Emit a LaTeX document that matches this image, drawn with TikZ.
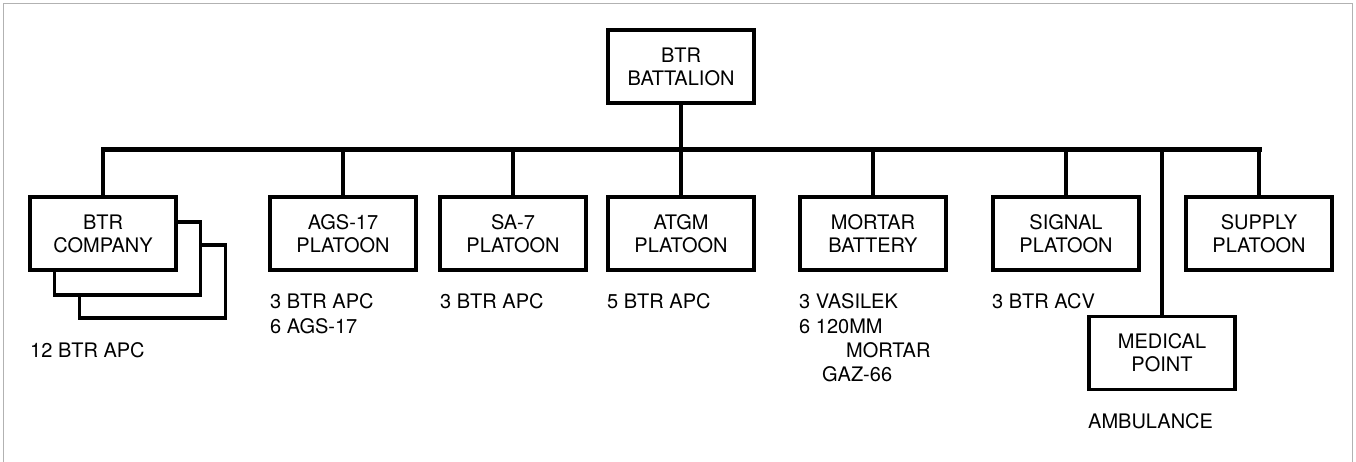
\documentclass[tikz,border=0pt]{standalone}
\usepackage{fontspec}
\setmainfont{TeX Gyre Heros}
\begin{document}
\begin{tikzpicture}[x=1pt, y=-1pt,
    unit/.style={draw, line width=3.2pt, fill=white, minimum width=146pt, minimum height=73pt,
        inner sep=0pt, align=center, font=\fontsize{20}{23}\selectfont},
    link/.style={line width=4.5pt},
    note/.style={anchor=base west, inner sep=0pt, font=\fontsize{20}{24}\selectfont}]
    \useasboundingbox (0,0) rectangle (1356,462);
    \draw[gray!60, line width=0.8pt] (3,462) -- (3,3) -- (1352,3) -- (1352,462);

    % headquarters
    \node[unit] (bat) at (681,66.5) {BTR\\BATTALION};

    % subunits
    \node[unit] (coyc) at (152.5,281.5) {};
    \node[unit] (coyb) at (127.5,258.5) {};
    \node[unit] (coy) at (103,233.5) {BTR\\COMPANY};
    \node[unit] (ags) at (343,233.5) {AGS-17\\PLATOON};
    \node[unit] (sam) at (513,233.5) {SA-7\\PLATOON};
    \node[unit] (atgm) at (681,233.5) {ATGM\\PLATOON};
    \node[unit] (mort) at (873,233.5) {MORTAR\\BATTERY};
    \node[unit] (sig) at (1066,233.5) {SIGNAL\\PLATOON};
    \node[unit] (sup) at (1259,233.5) {SUPPLY\\PLATOON};
    \node[unit] (med) at (1162,353) {MEDICAL\\POINT};

    % connections
    \coordinate (busL) at (coy.north |- 0,150);
    \coordinate (busR) at (sup.north |- 0,150);
    \draw[link, line width=5pt, line cap=rect] (busL) -- (busR);
    \draw[link] (bat.south) -- (bat.south |- busL);
    \foreach \u in {coy,ags,sam,atgm,mort,sig,sup,med}
        \draw[link] (\u.north) -- (\u.north |- busL);

    % equipment
    \node[note] (coyq) at (30,357) {12 BTR APC};
    \node[note] (agsq) at (270,308) {3 BTR APC};
    \node[note] (agsr) at (270,333) {6 AGS-17};
    \node[note] (samq) at (440,308) {3 BTR APC};
    \node[note] (atgmq) at (607,308) {5 BTR APC};
    \node[note] (mortq) at (799,308) {3 VASILEK};
    \node[note] (mortr) at (799,333) {6 120MM};
    \node[note] (morts) at (846,357) {MORTAR};
    \node[note] (mortt) at (822,381) {GAZ-66};
    \node[note] (sigq) at (992,308) {3 BTR ACV};
    \node[note] (medq) at (1088,428) {AMBULANCE};
\end{tikzpicture}
\end{document}
